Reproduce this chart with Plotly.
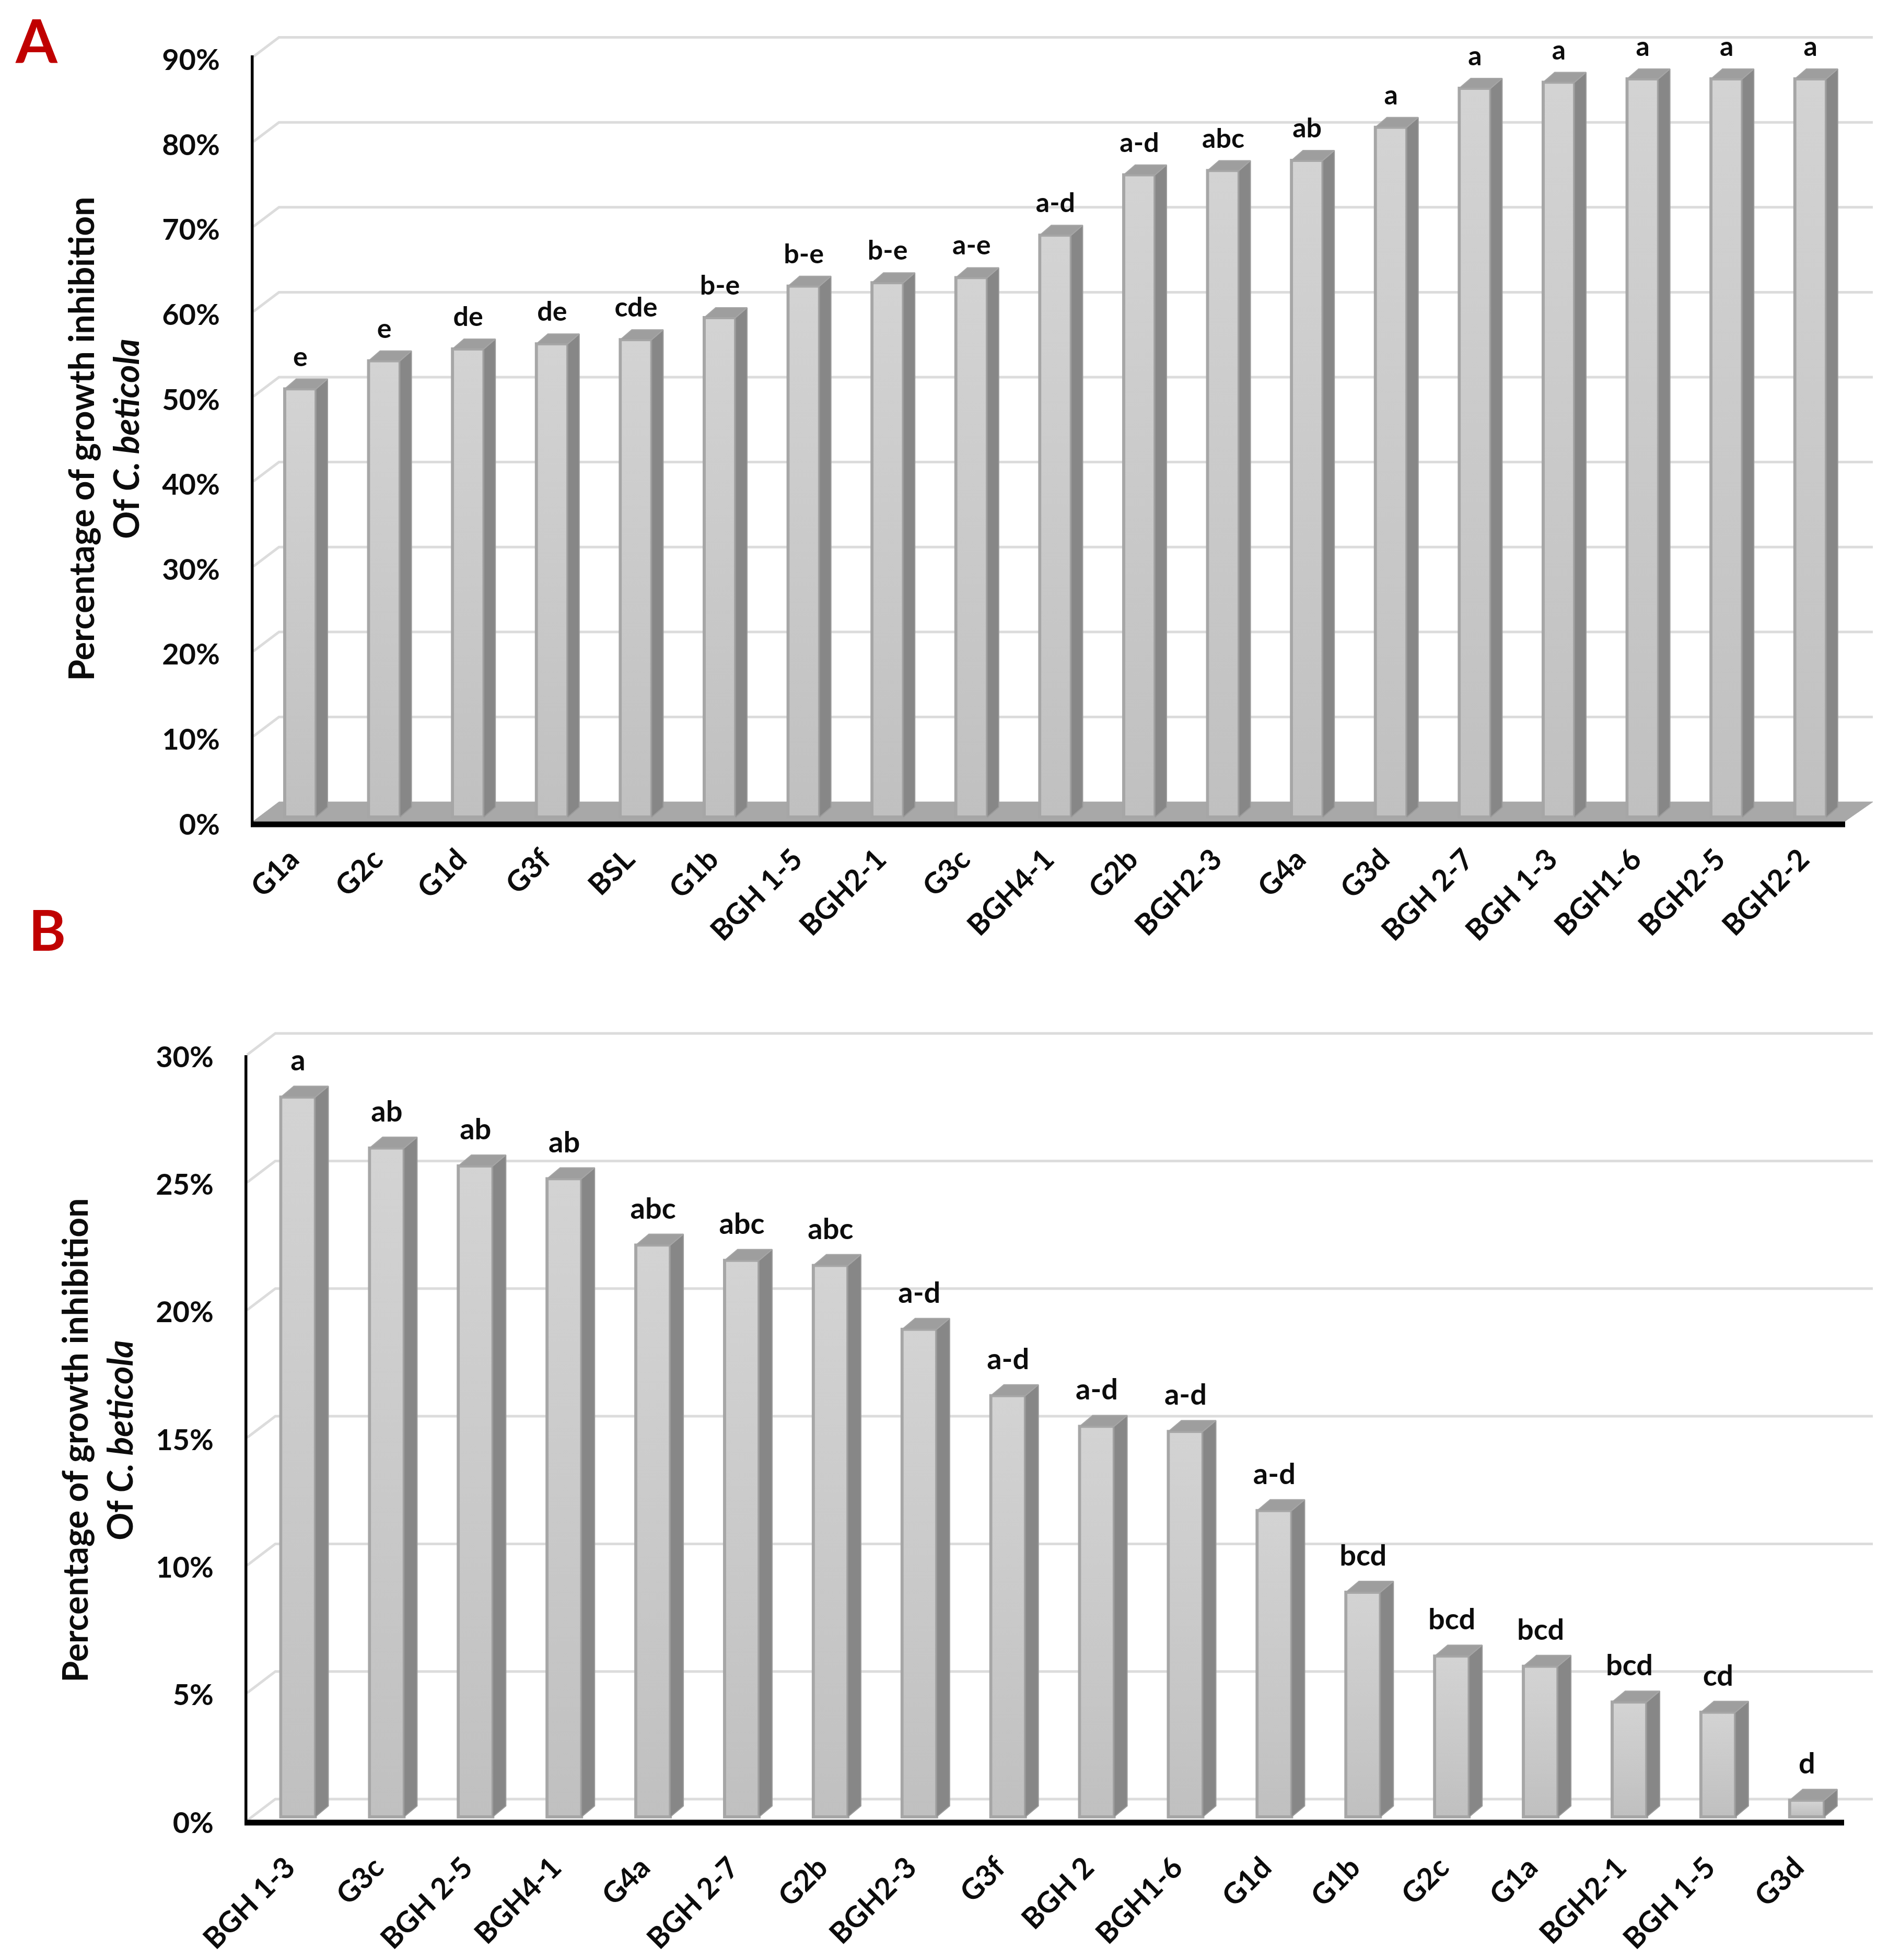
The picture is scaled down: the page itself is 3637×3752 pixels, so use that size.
import plotly.graph_objects as go

# ---------- data ----------
labels_a = ["G1a", "G2c", "G1d", "G3f", "BSL", "G1b", "BGH 1-5", "BGH2-1", "G3c", "BGH4-1",
            "G2b", "BGH2-3", "G4a", "G3d", "BGH 2-7", "BGH 1-3", "BGH1-6", "BGH2-5", "BGH2-2"]
values_a = [50.4, 53.7, 55.1, 55.7, 56.2, 58.8, 62.5, 62.9, 63.5, 68.5,
            75.6, 76.1, 77.3, 81.2, 85.8, 86.5, 86.9, 86.9, 86.9]
letters_a = ["e", "e", "de", "de", "cde", "b-e", "b-e", "b-e", "a-e", "a-d",
             "a-d", "abc", "ab", "a", "a", "a", "a", "a", "a"]
ticks_a = [0, 10, 20, 30, 40, 50, 60, 70, 80, 90]

labels_b = ["BGH 1-3", "G3c", "BGH 2-5", "BGH4-1", "G4a", "BGH 2-7", "G2b", "BGH2-3", "G3f",
            "BGH 2", "BGH1-6", "G1d", "G1b", "G2c", "G1a", "BGH2-1", "BGH 1-5", "G3d"]
values_b = [28.2, 26.2, 25.5, 25.0, 22.4, 21.8, 21.6, 19.1, 16.5,
            15.3, 15.1, 12.0, 8.8, 6.3, 5.9, 4.5, 4.1, 0.65]
letters_b = ["a", "ab", "ab", "ab", "abc", "abc", "abc", "a-d", "a-d",
             "a-d", "a-d", "a-d", "bcd", "bcd", "bcd", "bcd", "cd", "d"]
ticks_b = [0, 5, 10, 15, 20, 25, 30]

axis_title = "Percentage of growth inhibition<br>Of <i>C. beticola</i>"

W, H = 3637, 3752
FONT = "Lato"
INK = "#0c0c0c"

# panel geometry, in output pixels
panel_a = dict(xa="x", ya="y", left=480, right=3600, top=60, bottom=1620,
               first=575, pitch=160.6, y0=1578, per_unit=16.26,
               bar=60, side=22, rise=19, lift=14, axis_right=3532, axis_top=106,
               grid_right=3585, front=6, back=43, depth=54, text_gap=12, letter_size=52,
               floor=True, standoff_x=-20, shift_x=-19, title_standoff=22)
panel_b = dict(xa="x2", ya="y2", left=468, right=3600, top=1970, bottom=3544,
               first=570.5, pitch=169.9, y0=3489, per_unit=48.86,
               bar=66, side=25, rise=21, lift=11, axis_right=3530, axis_top=2020,
               grid_right=3585, front=4, back=45, depth=59, text_gap=16, letter_size=56,
               floor=False, standoff_x=-14, shift_x=-22, title_standoff=22)

fig = go.Figure()


def add_panel(p, labels, values, letters, ticks):
    ux = p["pitch"]
    uy = p["per_unit"]
    n = len(values)
    left = (p["left"] - p["first"]) / ux
    right_end = (p["axis_right"] - p["first"]) / ux
    grid_end = (p["grid_right"] - p["first"]) / ux
    ax = dict(xaxis=p["xa"], yaxis=p["ya"], showlegend=False, hoverinfo="skip")
    base = p["lift"] / uy
    half = p["bar"] / ux / 2
    dx = p["side"] / ux
    dy = p["rise"] / uy
    depth = p["depth"] / ux
    front = p["front"] / uy
    back = p["back"] / uy

    # floor of the 3-D box
    if p["floor"]:
        fig.add_trace(go.Scatter(
            x=[left + 5 / ux, right_end, grid_end, left + depth, left + 5 / ux],
            y=[front, front, back, back, front],
            mode="lines", fill="toself", fillcolor="#A8A8A8",
            line=dict(color="#A8A8A8", width=1), zorder=-3, cliponaxis=False, **ax))

    # back wall grid lines with their diagonal return to the value axis
    gx, gy = [], []
    for t in ticks:
        if p["floor"] and t == 0:
            continue
        gx += [left + 5 / ux, left + depth, grid_end, None]
        gy += [t + front, t + back, t + back, None]
    fig.add_trace(go.Scatter(x=gx, y=gy, mode="lines",
                             line=dict(color="#DCDCDC", width=5),
                             zorder=-2, cliponaxis=False, **ax))

    idx = list(range(n))
    # front faces
    fig.add_trace(go.Bar(x=idx, y=values, base=base, width=2 * half,
                         marker=dict(color="#C8C8C8", line=dict(color="#A6A6A6", width=6)),
                         zorder=0, cliponaxis=False, **ax))

    # gradient on the inside of each front face
    inset_x = 3 / ux
    inset_y = 3 / uy
    for i, v in zip(idx, values):
        fig.add_trace(go.Scatter(
            x=[i - half + inset_x, i + half - inset_x, i + half - inset_x, i - half + inset_x, i - half + inset_x],
            y=[base + inset_y, base + inset_y, base + v - inset_y, base + v - inset_y, base + inset_y],
            mode="lines", line=dict(width=0), fill="toself",
            fillgradient=dict(type="vertical",
                              colorscale=[[0, "#C0C0C0"], [1, "#D3D3D3"]]),
            zorder=1, cliponaxis=False, **ax))

    # side and top faces
    sx, sy, tx, ty = [], [], [], []
    for i, v in zip(idx, values):
        r = i + half
        l = i - half
        top = base + v
        sx += [r, r + dx, r + dx, r, r, None]
        sy += [base, base + dy, top + dy, top, base, None]
        tx += [l, l + dx, r + dx, r, l, None]
        ty += [top, top + dy, top + dy, top, top, None]
    fig.add_trace(go.Scatter(x=sx, y=sy, mode="lines", fill="toself", fillcolor="#878787",
                             line=dict(color="#9A9A9A", width=2), zorder=1, cliponaxis=False, **ax))
    fig.add_trace(go.Scatter(x=tx, y=ty, mode="lines", fill="toself", fillcolor="#9E9E9E",
                             line=dict(color="#A6A6A6", width=2), zorder=1, cliponaxis=False, **ax))

    # black axis lines
    fig.add_trace(go.Scatter(
        x=[left, left, right_end],
        y=[(p["y0"] - p["axis_top"]) / uy, 0, 0],
        mode="lines", line=dict(color="#000000", width=11), zorder=2, cliponaxis=False, **ax))

    # significance letters
    fig.add_trace(go.Scatter(
        x=idx, y=[base + v + dy + p["text_gap"] / uy for v in values],
        mode="text", text=letters, textposition="top center",
        textfont=dict(family=FONT, size=p["letter_size"], color=INK, weight=700),
        zorder=3, cliponaxis=False, **ax))

    xkey = "xaxis" if p["xa"] == "x" else "xaxis2"
    ykey = "yaxis" if p["ya"] == "y" else "yaxis2"
    fig.update_layout({
        xkey: dict(domain=[p["left"] / W, p["right"] / W],
                   range=[left, (p["right"] - p["first"]) / ux],
                   tickmode="array", tickvals=idx, ticktext=labels, tickangle=-45,
                   ticks="", showgrid=False, zeroline=False, showline=False, automargin=False,
                   ticklabelstandoff=p["standoff_x"], ticklabelshift=p["shift_x"], anchor=p["ya"],
                   tickfont=dict(family=FONT, size=56, color=INK, weight=700)),
        ykey: dict(domain=[1 - p["bottom"] / H, 1 - p["top"] / H],
                   range=[(p["y0"] - p["bottom"]) / uy, (p["y0"] - p["top"]) / uy],
                   tickmode="array", tickvals=ticks, ticktext=[f"{t}%" for t in ticks],
                   ticks="", showgrid=False, zeroline=False, showline=False, automargin=False,
                   ticklabelstandoff=58, anchor=p["xa"],
                   tickfont=dict(family=FONT, size=56, color=INK, weight=700),
                   title=dict(text=axis_title, standoff=p["title_standoff"],
                              font=dict(family=FONT, size=66, color=INK, weight=700))),
    })


add_panel(panel_a, labels_a, values_a, letters_a, ticks_a)
add_panel(panel_b, labels_b, values_b, letters_b, ticks_b)

fig.update_layout(
    width=W, height=H, margin=dict(l=0, r=0, t=0, b=0, autoexpand=False),
    paper_bgcolor="white", plot_bgcolor="rgba(0,0,0,0)", showlegend=False, barmode="overlay",
    annotations=[
        dict(text="<b>A</b>", x=70 / W, y=1 - 76 / H, xref="paper", yref="paper", showarrow=False,
             xanchor="center", yanchor="middle", font=dict(family=FONT, size=115, color="#C00000")),
        dict(text="<b>B</b>", x=90 / W, y=1 - 1778 / H, xref="paper", yref="paper", showarrow=False,
             xanchor="center", yanchor="middle", font=dict(family=FONT, size=108, color="#C00000")),
    ],
)

fig.write_html("out.html", config={"displayModeBar": False},
               post_script="document.body.style.margin='0';")
